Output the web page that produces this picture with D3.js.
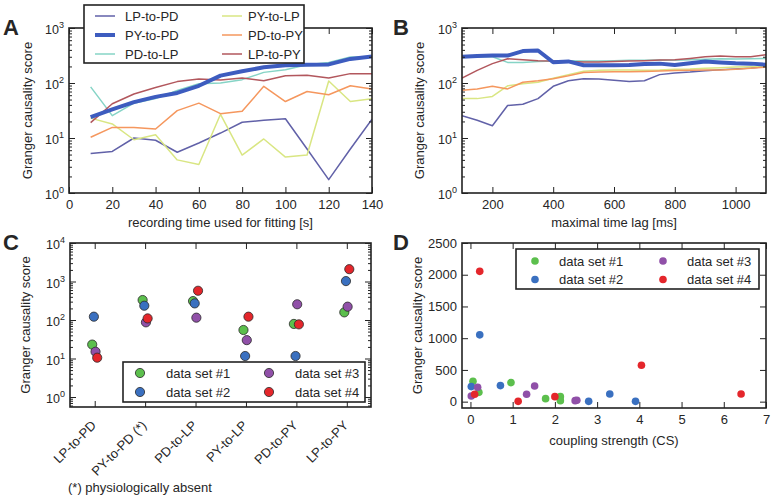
<!DOCTYPE html>
<html><head><meta charset="utf-8">
<script src="https://cdn.jsdelivr.net/npm/d3@7"></script>
<style>
body{margin:0;background:#fff}
text{font-family:"Liberation Sans",Arial,sans-serif;fill:#262626}
</style>
</head><body>
<svg id="c" width="773" height="499"></svg>
<script>
// ---------------- DATA ----------------
const pathways = ["LP-to-PD","PY-to-PD","PD-to-LP","PY-to-LP","PD-to-PY","LP-to-PY"];
const pathwayColors = ["#6161a8","#3d5cbf","#86d4c6","#d9e683","#f5975e","#b2575d"];

// Panel A: recording time [s]
const recTime = [10,20,30,40,50,60,70,80,90,100,110,120,130,140];
const A_LPtoPD = [5.2,5.7,10,9.1,5.5,8.1,12.3,19.3,21,22.4,6.3,1.75,6.3,22];
const A_PYtoPD = [24,33,45,56,66,89,136,163,193,210,215,218,274,302];
const A_PDtoLP = [85,25.5,43,52,73,97,100,115,156,174,215,237,297,297];
const A_PYtoLP = [23,18,9.3,11.5,4.0,3.3,27,4.9,9.6,4.5,4.9,109,46,52];
const A_PDtoPY = [10.3,15.6,15.5,14.6,31.5,43,27.7,30.5,87,46,70,61,89,78];
const A_LPtoPY = [19,42,63,83,106,118,113,123,110,136,138,123,148,148];

// Panel B: maximal time lag [ms]
const maxLag = [100,150,200,250,300,350,400,450,500,550,600,650,700,750,800,850,900,950,1000,1050,1100];
const B_LPtoPD = [25.5,21,16.7,39,41,52,87,110,120,118,112,107,110,142,152,158,167,174,180,188,200];
const B_PYtoPD = [300,310,315,315,380,390,238,247,210,210,210,212,222,225,213,228,245,235,228,225,215];
const B_PDtoLP = [297,300,300,237,235,245,250,255,250,250,255,258,260,262,258,265,270,275,272,275,280];
const B_PYtoLP = [52,52,57,89,97,103,122,142,163,170,172,172,170,172,178,180,185,190,195,198,200];
const B_PDtoPY = [74,78,87,78,103,110,120,135,155,158,160,160,162,165,168,170,172,172,178,185,195];
const B_LPtoPY = [123,170,225,275,265,255,250,245,240,240,245,250,255,262,265,280,300,310,300,300,325];

// Panel C / D: data sets
const dataSets = ["data set #1","data set #2","data set #3","data set #4"];
const dataSetColors = ["#5cbf4d","#3a70c0","#9050a8","#e4262b"];
const C_ds1 = [23,330,310,55,79,158];
const C_ds2 = [122,235,270,11.6,11.6,1025];
const C_ds3 = [15,87,115,30,256,222];
const C_ds4 = [10.5,110,575,122,77,2090];

const D_cs1 = [0.06,0.96,0.2,1.78,2.13,2.13];
const D_gc1 = [321,300,147,47,79,16];
const D_cs2 = [0.22,0.02,0.71,2.8,3.3,3.91];
const D_gc2 = [1053,237,253,5,121,5];
const D_cs3 = [0.02,0.17,1.33,1.52,2.48,2.52];
const D_gc3 = [89,226,116,247,16,21];
const D_cs4 = [0.22,0.1,1.13,2.0,4.05,6.41];
const D_gc4 = [2053,116,5,79,573,121];

// Tick values
const A_xTicks = [0,20,40,60,80,100,120,140];
const B_xTicks = [200,400,600,800,1000];
const D_xTicks = [0,1,2,3,4,5,6,7];
const D_yTicks = [0,500,1000,1500,2000,2500];

// ---------------- DRAWING ----------------
const svg = d3.select("#c");
svg.append("rect").attr("width",773).attr("height",499).attr("fill","#fff");

function logMinors(dom){
  const out=[];
  const lo=Math.floor(Math.log10(dom[0])), hi=Math.ceil(Math.log10(dom[1]));
  for(let d=lo; d<hi; d++) for(let m=2;m<=9;m++){const v=m*Math.pow(10,d); if(v>=dom[0]&&v<=dom[1]) out.push(v);}
  return out;
}
function logMajors(dom){
  const out=[];
  for(let d=Math.ceil(Math.log10(dom[0]-1e-12)); Math.pow(10,d)<=dom[1]*1.0001; d++) out.push(Math.pow(10,d));
  return out;
}
function clean(g){ g.select(".domain").remove(); g.selectAll("line").attr("stroke","#222").attr("stroke-width",1); }

function logYAxes(x, y){
  const [x0,x1]=x.range();
  const dom=y.domain();
  const maj=logMajors(dom), min=logMinors(dom);
  svg.append("g").attr("transform",`translate(${x0},0)`).call(d3.axisLeft(y).tickValues(maj).tickSize(-6).tickFormat("")).call(clean);
  svg.append("g").attr("transform",`translate(${x0},0)`).call(d3.axisLeft(y).tickValues(min).tickSize(-3).tickFormat("")).call(clean);
  svg.append("g").attr("transform",`translate(${x1},0)`).call(d3.axisRight(y).tickValues(maj).tickSize(-6).tickFormat("")).call(clean);
  svg.append("g").attr("transform",`translate(${x1},0)`).call(d3.axisRight(y).tickValues(min).tickSize(-3).tickFormat("")).call(clean);
  maj.forEach(v=>{
    const t=svg.append("text").attr("x",x0-5).attr("y",y(v)+6).attr("text-anchor","end").attr("font-size",12.5);
    t.append("tspan").text("10");
    t.append("tspan").attr("dy",-6).attr("font-size",9).text(Math.round(Math.log10(v)));
  });
}
function xAxes(x, y, ticks, labels){
  const [y0,y1]=y.range(); // y0 bottom
  const gb=svg.append("g").attr("transform",`translate(0,${y0})`)
    .call(d3.axisBottom(x).tickValues(ticks).tickSize(-6).tickPadding(7).tickFormat(labels?d3.format("d"):""));
  clean(gb);
  gb.selectAll("text").attr("font-size",13).attr("fill","#262626").attr("font-family","Liberation Sans, Arial, sans-serif");
  const gt=svg.append("g").attr("transform",`translate(0,${y1})`)
    .call(d3.axisTop(x).tickValues(ticks).tickSize(-6).tickFormat(""));
  clean(gt);
}
function frame(x,y){
  const [x0,x1]=x.range(), [yb,yt]=y.range();
  svg.append("rect").attr("x",x0).attr("y",yt).attr("width",x1-x0).attr("height",yb-yt)
    .attr("fill","none").attr("stroke","#222").attr("stroke-width",1.6);
}
function yLabel(xpos, y){
  const [yb,yt]=y.range();
  svg.append("text").attr("transform",`translate(${xpos},${(yb+yt)/2}) rotate(-90)`)
    .attr("text-anchor","middle").attr("dy","0.35em").attr("font-size",13).text("Granger causality score");
}
function xLabel(x, ypos, txt){
  const [x0,x1]=x.range();
  svg.append("text").attr("x",(x0+x1)/2).attr("y",ypos).attr("text-anchor","middle").attr("font-size",13).text(txt);
}
function panelLetter(l, xp, yp){
  svg.append("text").attr("x",xp).attr("y",yp).attr("font-size",22).attr("font-weight","bold").attr("fill","#111").text(l);
}

// ----- Panel A -----
const xA=d3.scaleLinear().domain([0,140]).range([69,372]);
const yA=d3.scaleLog().domain([1,1000]).range([193,28]);
const A_series=[A_LPtoPD,A_PYtoPD,A_PDtoLP,A_PYtoLP,A_PDtoPY,A_LPtoPY];
const B_series=[B_LPtoPD,B_PYtoPD,B_PDtoLP,B_PYtoLP,B_PDtoPY,B_LPtoPY];
const lineOrder=[0,2,3,4,5,1];

function drawLines(x,y,xs,series){
  const clipId="clip"+Math.round(x.range()[0]);
  svg.append("clipPath").attr("id",clipId).append("rect")
    .attr("x",x.range()[0]).attr("y",y.range()[1]).attr("width",x.range()[1]-x.range()[0]).attr("height",y.range()[0]-y.range()[1]);
  const g=svg.append("g").attr("clip-path",`url(#${clipId})`);
  lineOrder.forEach(i=>{
    const line=d3.line().x((d,j)=>x(xs[j])).y(d=>y(d));
    g.append("path").datum(series[i]).attr("d",line).attr("fill","none")
      .attr("stroke",pathwayColors[i]).attr("stroke-width",i===1?4:1.5).attr("stroke-linejoin","round");
  });
}
drawLines(xA,yA,recTime,A_series);
logYAxes(xA,yA);
xAxes(xA,yA,A_xTicks,true);
frame(xA,yA);
yLabel(27,yA);
xLabel(xA,227,"recording time used for fitting [s]");
panelLetter("A",3,35);

// Legend A
const legA=svg.append("g");
legA.append("rect").attr("x",84).attr("y",5).attr("width",220).attr("height",58).attr("fill","#fff").attr("stroke","#222").attr("stroke-width",1.6);
pathways.forEach((p,i)=>{
  const col=Math.floor(i/3), row=i%3;
  const lx=col?222:95, tx=col?248:125, ly=16+row*19;
  legA.append("line").attr("x1",lx).attr("x2",lx+20).attr("y1",ly).attr("y2",ly)
    .attr("stroke",pathwayColors[i]).attr("stroke-width",i===1?4:1.5);
  legA.append("text").attr("x",tx).attr("y",ly).attr("dy","0.36em").attr("font-size",13).text(p);
});

// ----- Panel B -----
const xB=d3.scaleLinear().domain([100,1100]).range([462,766]);
const yB=d3.scaleLog().domain([1,1000]).range([193,28]);
drawLines(xB,yB,maxLag,B_series);
logYAxes(xB,yB);
xAxes(xB,yB,B_xTicks,true);
frame(xB,yB);
yLabel(419,yB);
xLabel(xB,227,"maximal time lag [ms]");
panelLetter("B",393,35);

// ----- Panel C -----
const xC=d3.scaleLinear().domain([-0.49,5.48]).range([70,371]);
const yC=d3.scaleLog().domain([0.55,10000]).range([407,243]);
logYAxes(xC,yC);
xAxes(xC,yC,d3.range(pathways.length),false);
const C_sets=[C_ds1,C_ds2,C_ds3,C_ds4];
C_sets.forEach((vals,k)=>{
  svg.append("g").selectAll("circle").data(vals).join("circle")
    .attr("cx",(d,i)=>xC(i+(k-1.5)*0.033)).attr("cy",d=>yC(d)).attr("r",4.6)
    .attr("fill",dataSetColors[k]).attr("stroke","#2a2a2a").attr("stroke-width",0.8);
});
frame(xC,yC);
pathways.forEach((p,i)=>{
  svg.append("text").attr("transform",`translate(${xC(i)-1},${423}) rotate(-45)`)
    .attr("text-anchor","end").attr("dy","0.35em").attr("font-size",13).text(i===1?p+" (*)":p);
});
svg.append("text").attr("x",68).attr("y",492).attr("font-size",13).text("(*) physiologically absent");
yLabel(25,yC);
panelLetter("C",3,250);

// Legend C
const legC=svg.append("g");
legC.append("rect").attr("x",123).attr("y",362).attr("width",242).attr("height",40).attr("fill","#fff").attr("stroke","#222").attr("stroke-width",1.6);
dataSets.forEach((s,k)=>{
  const col=Math.floor(k/2), row=k%2;
  const mx=col?269:140, tx=col?295:166, ly=373+row*19;
  legC.append("circle").attr("cx",mx).attr("cy",ly).attr("r",4.6).attr("fill",dataSetColors[k]).attr("stroke","#2a2a2a").attr("stroke-width",0.8);
  legC.append("text").attr("x",tx).attr("y",ly).attr("dy","0.36em").attr("font-size",13).text(s);
});

// ----- Panel D -----
const xD=d3.scaleLinear().domain([-0.2,7]).range([462,766]);
const yD=d3.scaleLinear().domain([-100,2500]).range([408,243]);
const gyl=svg.append("g").attr("transform",`translate(462,0)`).call(d3.axisLeft(yD).tickValues(D_yTicks).tickSize(-6).tickPadding(5).tickFormat(d3.format("d")));
clean(gyl); gyl.selectAll("text").attr("font-size",13).attr("fill","#262626").attr("font-family","Liberation Sans, Arial, sans-serif");
const gyr=svg.append("g").attr("transform",`translate(766,0)`).call(d3.axisRight(yD).tickValues(D_yTicks).tickSize(-6).tickFormat(""));
clean(gyr);
xAxes(xD,yD,D_xTicks,true);
const D_sets=[[D_cs1,D_gc1],[D_cs2,D_gc2],[D_cs3,D_gc3],[D_cs4,D_gc4]];
D_sets.forEach(([cs,gc],k)=>{
  svg.append("g").selectAll("circle").data(cs).join("circle")
    .attr("cx",d=>xD(d)).attr("cy",(d,i)=>yD(gc[i])).attr("r",3.8).attr("fill",dataSetColors[k]);
});
frame(xD,yD);
yLabel(417,yD);
xLabel(xD,445,"coupling strength (CS)");
panelLetter("D",393,250);

// Legend D
const legD=svg.append("g");
legD.append("rect").attr("x",516).attr("y",249).attr("width",243).attr("height",40).attr("fill","#fff").attr("stroke","#222").attr("stroke-width",1.6);
dataSets.forEach((s,k)=>{
  const col=Math.floor(k/2), row=k%2;
  const mx=col?663:535, tx=col?687:559, ly=261+row*18.5;
  legD.append("circle").attr("cx",mx).attr("cy",ly).attr("r",3.8).attr("fill",dataSetColors[k]);
  legD.append("text").attr("x",tx).attr("y",ly).attr("dy","0.36em").attr("font-size",13).text(s);
});
</script>
</body></html>
